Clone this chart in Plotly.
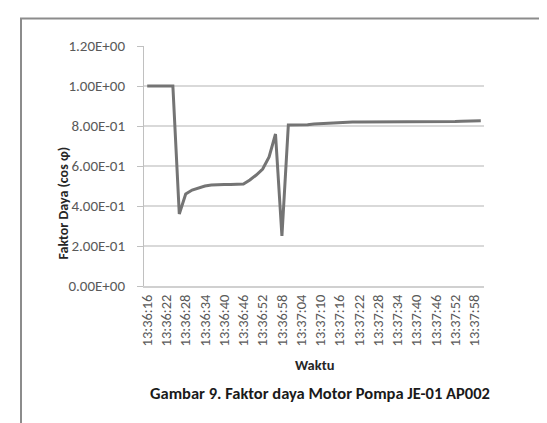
import plotly.graph_objects as go

# sampling: one reading every 2 s, 13:36:16 .. 13:38:00
start_sec = 13 * 3600 + 36 * 60 + 16
n_points = 53
times = []
for k in range(n_points):
    s = start_sec + 2 * k
    times.append("{:02d}:{:02d}:{:02d}".format(s // 3600, (s // 60) % 60, s % 60))

power_factor = [
    1.0, 1.0, 1.0, 1.0, 1.0, 0.36, 0.46, 0.48, 0.49, 0.50,
    0.505, 0.508, 0.508, 0.508, 0.508, 0.51, 0.53, 0.555, 0.585, 0.645,
    0.76, 0.25, 0.805, 0.805, 0.804, 0.806, 0.81, 0.812, 0.814, 0.816,
    0.818, 0.819, 0.82, 0.82, 0.82, 0.82, 0.82, 0.82, 0.82, 0.82,
    0.82, 0.82, 0.82, 0.82, 0.82, 0.82, 0.82, 0.822, 0.823, 0.824,
    0.824, 0.825, 0.826,
]

y_tickvals = [0, 0.2, 0.4, 0.6, 0.8, 1.0, 1.2]
y_ticktext = ["0.00E+00", "2.00E-01", "4.00E-01", "6.00E-01", "8.00E-01", "1.00E+00", "1.20E+00"]
x_tickvals = times[::3]

W, H = 547, 423
L, R, T, B = 136, 476, 38, 278  # plot area in pixels


def px(x):
    return (x - L) / (R - L)


def py(y):
    return (B - y) / (B - T)


font = "Carlito, Lato, Arial, sans-serif"

fig = go.Figure()
fig.add_trace(go.Scatter(x=times, y=power_factor, mode="lines",
                         line=dict(color="#747474", width=3)))

fig.update_layout(
    width=W, height=H,
    margin=dict(l=L, r=W - R, t=T, b=H - B),
    paper_bgcolor="white", plot_bgcolor="white",
    showlegend=False,
    font=dict(family=font, size=14, color="#595959"),
    xaxis=dict(type="category", range=[-0.5, n_points - 0.5],
               tickmode="array", tickvals=x_tickvals, tickangle=-90,
               showgrid=False, zeroline=False,
               showline=True, linecolor="#d0d0d0", linewidth=1.5,
               ticks="", ticklabelstandoff=1,
               tickfont=dict(family=font, size=14.5, color="#595959")),
    yaxis=dict(range=[0, 1.2], tickmode="array", tickvals=y_tickvals, ticktext=y_ticktext,
               showgrid=True, gridcolor="#d9d9d9", gridwidth=1.5, zeroline=False,
               showline=True, linecolor="#c0c0c0", linewidth=1,
               ticks="outside", ticklen=6, tickcolor="#c0c0c0",
               ticklabelstandoff=9,
               tickfont=dict(family=font, size=15, color="#595959")),
)

# outer chart frame (only top/left edges fall inside the image)
fig.add_shape(type="rect", xref="paper", yref="paper",
              x0=px(13), x1=px(W + 20), y0=py(H + 20), y1=py(10.5),
              line=dict(color="#8c8c8c", width=2), fillcolor="rgba(0,0,0,0)", layer="below")

fig.add_annotation(text="<b>Faktor Daya (cos φ)</b>", xref="paper", yref="paper",
                   x=px(44), y=py(195), textangle=-90, showarrow=False,
                   font=dict(family=font, size=14, color="#262626"))
fig.add_annotation(text="<b>Waktu</b>", xref="paper", yref="paper",
                   x=px(306), y=py(368), showarrow=False,
                   font=dict(family=font, size=14.5, color="#262626"))
fig.add_annotation(text="<b>Gambar 9. Faktor daya Motor Pompa JE-01 AP002</b>", xref="paper", yref="paper",
                   x=px(312), y=py(397), showarrow=False,
                   font=dict(family=font, size=16.5, color="#1a1a1a"))

fig.write_html("out.html")
